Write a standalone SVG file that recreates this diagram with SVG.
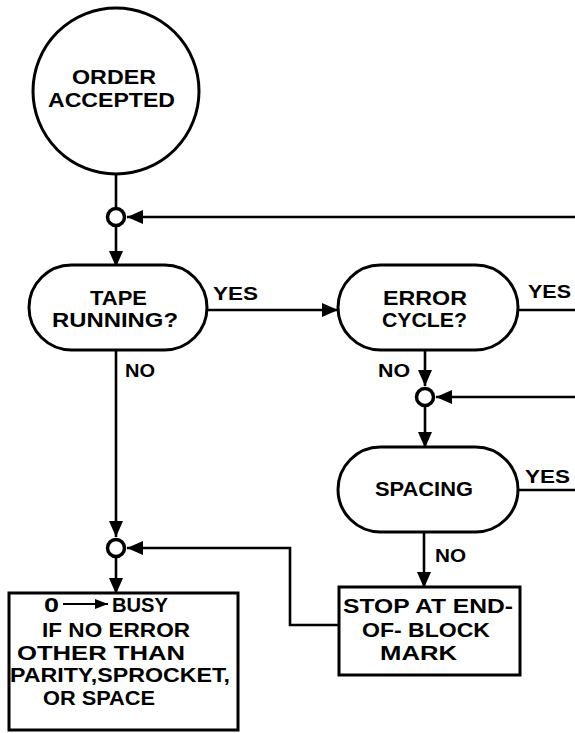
<svg xmlns="http://www.w3.org/2000/svg" width="575" height="733" viewBox="0 0 575 733">
<style>
.shape{fill:#fff;stroke:#000;stroke-width:3}
.jn{fill:#fff;stroke:#000;stroke-width:3.5}
.ln{fill:none;stroke:#000;stroke-width:2.6}
.arr{marker-end:url(#ah)}
text{font-family:"Liberation Sans",Arial,sans-serif;font-weight:bold;fill:#000}
.t21{font-size:21px}
.t19{font-size:19px}
</style>
<defs>
<marker id="ah" markerUnits="userSpaceOnUse" markerWidth="17" markerHeight="14" refX="16" refY="7" orient="auto">
<path d="M0,0 L16,7 L0,14 z" fill="#000"/>
</marker>
<marker id="ahs" markerUnits="userSpaceOnUse" markerWidth="14" markerHeight="12" refX="13" refY="5" orient="auto">
<path d="M0,0 L13,5 L0,10 z" fill="#000"/>
</marker>
</defs>

<g id="connectors">
<path class="ln" d="M116,175 V208"/>
<path class="ln arr" d="M575,217 H127"/>
<path class="ln arr" d="M116,226 V267"/>
<path class="ln arr" d="M207,310 H338"/>
<path class="ln" d="M518,310 H575"/>
<path class="ln arr" d="M425,350 V386"/>
<path class="ln arr" d="M575,397 H436"/>
<path class="ln arr" d="M425,407 V448"/>
<path class="ln" d="M518,490 H575"/>
<path class="ln arr" d="M424,532 V588"/>
<path class="ln arr" d="M116,350 V537"/>
<path class="ln arr" d="M339,625 H290 V548 H127"/>
<path class="ln arr" d="M116,558 V594"/>
<text class="t19" x="213" y="300" textLength="45" lengthAdjust="spacingAndGlyphs">YES</text>
<text class="t19" x="125" y="377" textLength="30" lengthAdjust="spacingAndGlyphs">NO</text>
<text class="t19" x="528" y="298" textLength="43" lengthAdjust="spacingAndGlyphs">YES</text>
<text class="t19" x="378" y="377" textLength="32" lengthAdjust="spacingAndGlyphs">NO</text>
<text class="t19" x="525" y="483" textLength="45" lengthAdjust="spacingAndGlyphs">YES</text>
<text class="t19" x="435" y="562" textLength="31" lengthAdjust="spacingAndGlyphs">NO</text>
</g>

<g id="order-accepted">
<circle class="shape" cx="116" cy="91" r="83"/>
<text class="t21" x="72" y="84" textLength="84" lengthAdjust="spacingAndGlyphs">ORDER</text>
<text class="t21" x="48" y="107" textLength="127" lengthAdjust="spacingAndGlyphs">ACCEPTED</text>
</g>

<g id="junction-1"><circle class="jn" cx="116" cy="217" r="8.5"/></g>

<g id="tape-running">
<rect class="shape" x="29" y="265" width="178" height="85" rx="42.5"/>
<text class="t21" x="90" y="305" textLength="57" lengthAdjust="spacingAndGlyphs">TAPE</text>
<text class="t21" x="52" y="327" textLength="126" lengthAdjust="spacingAndGlyphs">RUNNING?</text>
</g>

<g id="error-cycle">
<rect class="shape" x="338" y="265" width="180" height="85" rx="42.5"/>
<text class="t21" x="383" y="305" textLength="84" lengthAdjust="spacingAndGlyphs">ERROR</text>
<text class="t21" x="382" y="327" textLength="85" lengthAdjust="spacingAndGlyphs">CYCLE?</text>
</g>

<g id="junction-2"><circle class="jn" cx="425" cy="397" r="8.5"/></g>

<g id="spacing">
<rect class="shape" x="338" y="447" width="180" height="85" rx="42.5"/>
<text class="t21" x="375" y="496" textLength="98" lengthAdjust="spacingAndGlyphs">SPACING</text>
</g>

<g id="stop-at-end">
<rect class="shape" x="339" y="587" width="181" height="88"/>
<text class="t21" x="343" y="613" textLength="170" lengthAdjust="spacingAndGlyphs">STOP AT END-</text>
<text class="t21" x="362" y="637" textLength="128" lengthAdjust="spacingAndGlyphs">OF- BLOCK</text>
<text class="t21" x="380" y="660" textLength="77" lengthAdjust="spacingAndGlyphs">MARK</text>
</g>

<g id="junction-3"><circle class="jn" cx="116" cy="548" r="8.5"/></g>

<g id="busy-box">
<rect class="shape" x="9" y="593" width="229" height="137"/>
<text class="t21" x="44" y="612" textLength="15" lengthAdjust="spacingAndGlyphs">0</text>
<path d="M63,604 H108" stroke="#000" stroke-width="2.2" marker-end="url(#ahs)"/>
<text class="t21" x="112" y="612" textLength="56" lengthAdjust="spacingAndGlyphs">BUSY</text>
<text class="t21" x="42" y="637" textLength="148" lengthAdjust="spacingAndGlyphs">IF NO ERROR</text>
<text class="t21" x="17" y="660" textLength="168" lengthAdjust="spacingAndGlyphs">OTHER THAN</text>
<text class="t21" x="10" y="682" textLength="220" lengthAdjust="spacingAndGlyphs">PARITY,SPROCKET,</text>
<text class="t21" x="43" y="705" textLength="112" lengthAdjust="spacingAndGlyphs">OR SPACE</text>
</g>
</svg>
